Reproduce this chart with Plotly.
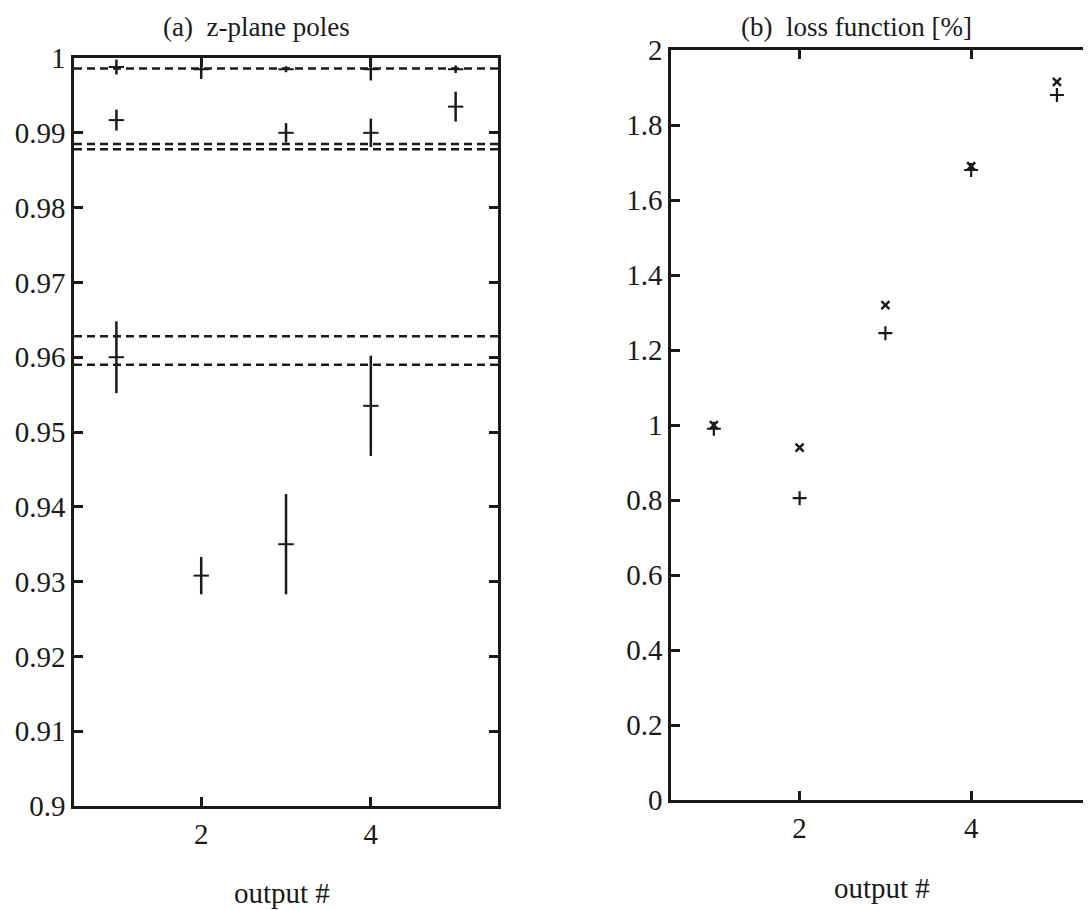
import plotly.graph_objects as go

# ---------------- data ----------------
outputs = [1, 2, 3, 4, 5]

# (a) z-plane poles: estimated poles with uncertainty bars
pole_hi = [0.9988, 0.9985, 0.9985, 0.9985, 0.9985]
pole_hi_err = [0.0010, 0.0013, 0.0004, 0.0015, 0.0005]

pole_mid_x = [1, 3, 4, 5]
pole_mid = [0.9917, 0.9900, 0.9900, 0.9935]
pole_mid_err = [0.0014, 0.0013, 0.0019, 0.0020]

pole_lo_x = [1, 2, 3, 4]
pole_lo = [0.9600, 0.9308, 0.9350, 0.9535]
pole_lo_err = [0.0048, 0.0025, 0.0067, 0.0067]

# true pole levels (dashed lines)
true_poles = [0.9986, 0.9885, 0.9878, 0.9628, 0.9590]

# (b) loss function [%]
loss_x_marker = [1.00, 0.94, 1.32, 1.69, 1.915]
loss_plus_marker = [0.99, 0.805, 1.245, 1.68, 1.88]

left_ticks = [0.9, 0.91, 0.92, 0.93, 0.94, 0.95, 0.96, 0.97, 0.98, 0.99, 1.0]
left_ticktext = ["0.9", "0.91", "0.92", "0.93", "0.94", "0.95", "0.96", "0.97", "0.98", "0.99", "1"]
right_ticks = [0, 0.2, 0.4, 0.6, 0.8, 1.0, 1.2, 1.4, 1.6, 1.8, 2.0]
right_ticktext = ["0", "0.2", "0.4", "0.6", "0.8", "1", "1.2", "1.4", "1.6", "1.8", "2"]
x_ticks = [2, 4]

FONT = "Liberation Serif"
INK = "#1a1a1a"
FS = 29

fig = go.Figure()

# dashed true-pole lines
for lvl in true_poles:
    fig.add_trace(go.Scatter(
        x=[0.5, 5.5], y=[lvl, lvl], mode="lines",
        line=dict(color=INK, width=2.5, dash="8px,5px"),
        xaxis="x", yaxis="y", showlegend=False, hoverinfo="skip"))

def pole_trace(xs, ys, errs):
    return go.Scatter(
        x=xs, y=ys, mode="markers",
        marker=dict(symbol="line-ew", size=11, line=dict(color=INK, width=2)),
        error_y=dict(type="data", array=errs, visible=True, color=INK, thickness=2.5, width=0),
        xaxis="x", yaxis="y", showlegend=False)

fig.add_trace(pole_trace(outputs, pole_hi, pole_hi_err))
fig.add_trace(pole_trace(pole_mid_x, pole_mid, pole_mid_err))
fig.add_trace(pole_trace(pole_lo_x, pole_lo, pole_lo_err))

# loss function markers
fig.add_trace(go.Scatter(
    x=outputs, y=loss_x_marker, mode="markers",
    marker=dict(symbol="x-thin", size=8, line=dict(color=INK, width=2.5)),
    xaxis="x2", yaxis="y2", showlegend=False))
fig.add_trace(go.Scatter(
    x=outputs, y=loss_plus_marker, mode="markers",
    marker=dict(symbol="cross-thin", size=10, line=dict(color=INK, width=2.2)),
    xaxis="x2", yaxis="y2", showlegend=False))

axis_common = dict(
    showgrid=False, zeroline=False, showline=True, linecolor=INK, linewidth=2.5,
    mirror="ticks", ticks="inside", ticklen=9, tickwidth=2.5, tickcolor=INK,
    automargin=False,
    tickfont=dict(family=FONT, size=FS, color=INK))

fig.update_layout(
    width=1091, height=910,
    margin=dict(l=66, r=0, t=42, b=112),
    paper_bgcolor="white", plot_bgcolor="white",
    font=dict(family=FONT, color=INK),
    xaxis=dict(domain=[0, 0.4137], range=[0.5, 5.5], tickvals=x_ticks,
               ticktext=[str(v) for v in x_ticks], anchor="y", **axis_common),
    yaxis=dict(domain=[0, 0.9894], range=[0.9, 1.0], tickvals=left_ticks,
               ticktext=left_ticktext, anchor="x", **axis_common),
    xaxis2=dict(domain=[0.5824, 0.9941], range=[0.5, 5.42], tickvals=x_ticks,
                ticktext=[str(v) for v in x_ticks], anchor="y2", **axis_common),
    yaxis2=dict(domain=[0.0079, 1.0], range=[0, 2], tickvals=right_ticks,
                ticktext=right_ticktext, anchor="x2", **axis_common),
)

ann_font = dict(family=FONT, size=FS, color=INK)
title_font = dict(family=FONT, size=27, color=INK)
fig.add_annotation(text="(a)&nbsp;&nbsp;z-plane poles", xref="x domain", x=0.43, yref="paper",
                   y=1.0, yanchor="middle", yshift=23, showarrow=False, font=title_font)
fig.add_annotation(text="(b)&nbsp;&nbsp;loss function [%]", xref="x2 domain", x=0.44, yref="paper",
                   y=1.0, yanchor="middle", yshift=23, showarrow=False, font=title_font)
fig.add_annotation(text="output #", xref="x domain", x=0.49, yref="paper",
                   y=0, yanchor="middle", yshift=-87, showarrow=False, font=ann_font)
fig.add_annotation(text="output #", xref="x2 domain", x=0.50, yref="paper",
                   y=0, yanchor="middle", yshift=-82, showarrow=False, font=ann_font)

fig.write_html("out.html")
